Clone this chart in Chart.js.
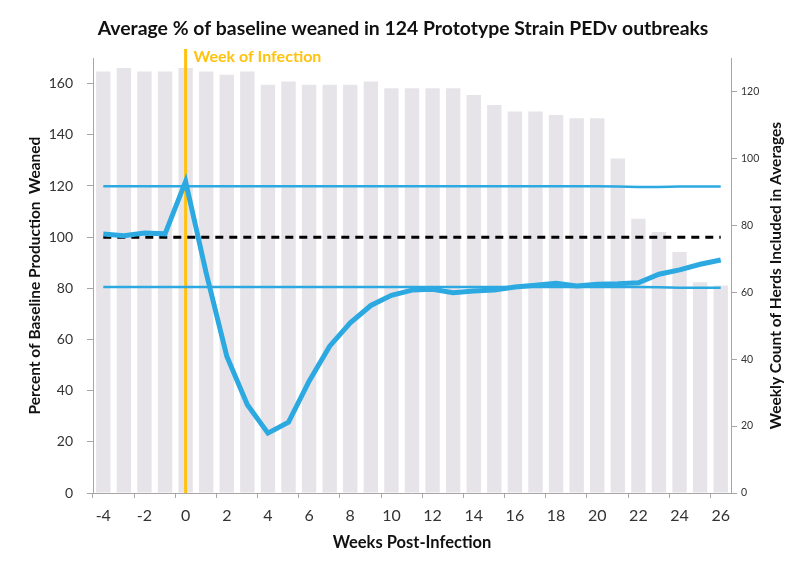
<!DOCTYPE html>
<html>
<head>
<meta charset="utf-8">
<script src="https://cdn.jsdelivr.net/npm/chart.js@4"></script>
<style>
  body { margin: 0; background: #fff; }
  canvas { display: block; }
</style>
</head>
<body>
<canvas id="chart" width="792" height="565"></canvas>
<script>
// weeks relative to infection
const weeks = [-4, -3, -2, -1, 0, 1, 2, 3, 4, 5, 6, 7, 8, 9, 10, 11, 12, 13, 14, 15, 16, 17, 18, 19, 20, 21, 22, 23, 24, 25, 26];
// herds included per week (right axis)
const herdCounts = [126, 127, 126, 126, 127, 126, 125, 126, 122, 123, 122, 122, 122, 123, 121, 121, 121, 121, 119, 116, 114, 114, 113, 112, 112, 100, 82, 78, 72, 63, 62];
// average % of baseline weaned
const pctWeaned = [101.2, 100.6, 101.6, 101.3, 121.8, 86, 53.5, 34.5, 23.4, 27.7, 43.7, 57.4, 66.5, 73.3, 77.3, 79.3, 79.6, 78.3, 79, 79.3, 80.5, 81.2, 82, 80.9, 81.6, 81.8, 82.2, 85.5, 87.2, 89.4, 91.1];
const upperLimit = [119.9, 119.9, 119.9, 119.9, 119.9, 119.9, 119.9, 119.9, 119.9, 119.9, 119.9, 119.9, 119.9, 119.9, 119.9, 119.9, 119.9, 119.9, 119.9, 119.9, 119.9, 119.9, 119.9, 119.9, 119.9, 119.8, 119.6, 119.6, 119.8, 119.8, 119.8];
const lowerLimit = [80.5, 80.5, 80.5, 80.5, 80.5, 80.5, 80.5, 80.5, 80.5, 80.5, 80.5, 80.5, 80.5, 80.5, 80.5, 80.5, 80.5, 80.5, 80.5, 80.5, 80.5, 80.5, 80.5, 80.5, 80.5, 80.5, 80.5, 80.4, 80.2, 80.2, 80.2];
const baseline = weeks.map(() => 100);
const leftTicks = [0, 20, 40, 60, 80, 100, 120, 140, 160];
const rightTicks = [0, 20, 40, 60, 80, 100, 120];

const FONT = 'Lato';
const blue = '#2DA9E1';
const gold = '#FFC20E';
const axisGray = '#A6A6A6';

// gold "week of infection" marker, drawn right after the bars
const infectionMarker = {
    id: 'infectionMarker',
    afterDatasetDraw(chart, args) {
        if (args.meta.type !== 'bar') return;
        const c = chart.ctx;
        const x = chart.scales.x.getPixelForValue(weeks.indexOf(0));
        c.save();
        c.strokeStyle = gold;
        c.lineWidth = 3;
        c.beginPath();
        c.moveTo(x, 49);
        c.lineTo(x, chart.chartArea.bottom);
        c.stroke();
        c.fillStyle = gold;
        c.font = 'bold 16px ' + FONT;
        c.textBaseline = 'middle';
        c.fillText('Week of Infection', x + 8, 57);
        c.restore();
    }
};

// right axis title reads bottom-to-top like the left one
const rightTitle = {
    id: 'rightTitle',
    afterDraw(chart) {
        const c = chart.ctx;
        const a = chart.chartArea;
        c.save();
        c.translate(776, (a.top + a.bottom) / 2);
        c.rotate(-Math.PI / 2);
        c.fillStyle = '#111';
        c.font = 'bold 15.5px ' + FONT;
        c.textAlign = 'center';
        c.textBaseline = 'middle';
        c.fillText('Weekly Count of Herds Included in Averages', 0, 0);
        c.restore();
    }
};

const ctx = document.getElementById('chart');
const chart = new Chart(ctx, {
    type: 'bar',
    data: {
        labels: weeks,
        datasets: [
            {
                type: 'line',
                data: pctWeaned,
                yAxisID: 'y',
                borderColor: blue,
                borderWidth: 5,
                pointRadius: 0,
                tension: 0,
                order: 1
            },
            {
                type: 'line',
                data: upperLimit,
                yAxisID: 'y',
                borderColor: blue,
                borderWidth: 2.5,
                pointRadius: 0,
                order: 2
            },
            {
                type: 'line',
                data: lowerLimit,
                yAxisID: 'y',
                borderColor: blue,
                borderWidth: 2.5,
                pointRadius: 0,
                order: 2
            },
            {
                type: 'line',
                data: baseline,
                yAxisID: 'y',
                borderColor: '#000',
                borderWidth: 3,
                borderDash: [8, 6],
                pointRadius: 0,
                order: 3
            },
            {
                type: 'bar',
                data: herdCounts,
                yAxisID: 'y1',
                backgroundColor: '#E7E4E9',
                categoryPercentage: 1,
                barPercentage: 0.7,
                order: 4
            }
        ]
    },
    options: {
        responsive: false,
        animation: false,
        layout: { padding: { left: 14, right: 0, top: 0, bottom: 0 } },
        plugins: {
            legend: { display: false },
            tooltip: { enabled: false },
            title: {
                display: true,
                text: 'Average % of baseline weaned in 124 Prototype Strain PEDv outbreaks',
                color: '#111',
                font: { family: FONT, size: 19.4, weight: 'bold', lineHeight: 1.2 },
                padding: { top: 17.4, bottom: 17.4 }
            }
        },
        scales: {
            x: {
                offset: true,
                grid: {
                    offset: true,
                    drawOnChartArea: false,
                    tickLength: 5,
                    tickColor: (c) => c.index % 2 === 0 ? axisGray : 'transparent'
                },
                border: { color: axisGray, width: 1 },
                ticks: {
                    autoSkip: false,
                    maxRotation: 0,
                    padding: 8,
                    color: '#333',
                    font: { family: FONT, size: 16 },
                    callback: (v, i) => weeks[i] % 2 === 0 ? String(weeks[i]) : ''
                },
                title: {
                    display: true,
                    text: 'Weeks Post-Infection',
                    color: '#111',
                    font: { family: FONT, size: 16.5, weight: 'bold', lineHeight: 1.2 },
                    padding: { top: 0, bottom: 12 }
                },
                afterFit: (s) => { s.height = 72; }
            },
            y: {
                position: 'left',
                min: 0,
                max: 170,
                afterBuildTicks: (s) => { s.ticks = leftTicks.map(v => ({ value: v })); },
                grid: { drawOnChartArea: false, tickLength: 6, tickColor: axisGray },
                border: { color: axisGray, width: 1 },
                ticks: {
                    padding: 14,
                    color: '#333',
                    font: { family: FONT, size: 14 }
                },
                title: {
                    display: true,
                    text: 'Percent of Baseline Production  Weaned',
                    color: '#111',
                    font: { family: FONT, size: 15.5, weight: 'bold', lineHeight: 1.2 },
                    padding: { top: 12, bottom: 0 }
                },
                afterFit: (s) => { s.width = 79; }
            },
            y1: {
                position: 'right',
                min: 0,
                max: 130,
                afterBuildTicks: (s) => { s.ticks = rightTicks.map(v => ({ value: v })); },
                grid: { drawOnChartArea: false, tickLength: 6, tickColor: axisGray },
                border: { color: axisGray, width: 1 },
                ticks: {
                    padding: 4,
                    color: '#333',
                    font: { family: FONT, size: 10.5 }
                },
                afterFit: (s) => { s.width = 61; }
            }
        }
    },
    plugins: [infectionMarker, rightTitle]
});
</script>
</body>
</html>
